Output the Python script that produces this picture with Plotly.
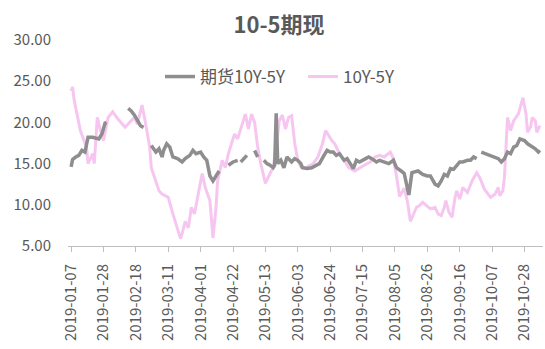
import plotly.graph_objects as go

# 10Y-5Y spot spread
spot_dates = [
    "2019-01-07", "2019-01-08", "2019-01-09", "2019-01-11", "2019-01-13", "2019-01-15",
    "2019-01-17", "2019-01-18", "2019-01-21", "2019-01-22", "2019-01-24", "2019-01-26",
    "2019-01-28", "2019-01-31", "2019-02-03", "2019-02-06", "2019-02-11", "2019-02-13",
    "2019-02-17", "2019-02-19", "2019-02-22", "2019-02-24", "2019-02-27", "2019-02-28",
    "2019-03-03", "2019-03-05", "2019-03-07", "2019-03-11", "2019-03-14", "2019-03-17",
    "2019-03-19", "2019-03-20", "2019-03-21", "2019-03-22", "2019-03-24", "2019-03-26",
    "2019-03-28", "2019-03-31", "2019-04-02", "2019-04-04", "2019-04-07", "2019-04-09",
    "2019-04-11", "2019-04-12", "2019-04-15", "2019-04-17", "2019-04-19", "2019-04-21",
    "2019-04-23", "2019-04-25", "2019-04-28", "2019-04-30", "2019-05-02", "2019-05-04",
    "2019-05-06", "2019-05-08", "2019-05-10", "2019-05-13", "2019-05-16", "2019-05-18",
    "2019-05-20", "2019-05-22", "2019-05-24", "2019-05-26", "2019-05-28", "2019-05-30",
    "2019-06-01", "2019-06-03", "2019-06-05", "2019-06-08", "2019-06-13", "2019-06-16",
    "2019-06-19", "2019-06-21", "2019-06-23", "2019-06-25", "2019-06-27", "2019-06-29",
    "2019-07-03", "2019-07-06", "2019-07-10", "2019-07-13", "2019-07-16", "2019-07-20",
    "2019-07-23", "2019-07-26", "2019-07-29", "2019-08-02", "2019-08-04", "2019-08-06",
    "2019-08-08", "2019-08-11", "2019-08-13", "2019-08-15", "2019-08-19", "2019-08-21",
    "2019-08-23", "2019-08-28", "2019-08-31", "2019-09-02", "2019-09-04", "2019-09-06",
    "2019-09-07", "2019-09-09", "2019-09-11", "2019-09-13", "2019-09-14", "2019-09-16",
    "2019-09-18", "2019-09-21", "2019-09-24", "2019-09-27", "2019-09-29", "2019-10-02",
    "2019-10-06", "2019-10-09", "2019-10-11", "2019-10-12", "2019-10-14", "2019-10-15",
    "2019-10-16", "2019-10-17", "2019-10-19", "2019-10-21", "2019-10-24", "2019-10-27",
    "2019-10-29", "2019-10-30", "2019-11-01", "2019-11-02", "2019-11-04", "2019-11-05",
    "2019-11-07",
]
spot_values = [
    23.8, 24.3, 22.7, 20.6, 19.0, 18.0,
    17.0, 15.0, 16.2, 15.0, 20.6, 19.0,
    17.8, 20.6, 21.3, 20.5, 19.4, 19.8,
    20.6, 19.8, 22.1, 20.2, 17.0, 14.5,
    12.9, 11.7, 11.3, 10.9, 8.9, 7.2,
    5.9, 6.5, 7.2, 8.0, 7.2, 9.7,
    8.9, 11.7, 13.8, 12.1, 10.5, 6.0,
    9.7, 12.9, 15.4, 14.5, 16.2, 17.4,
    18.6, 18.0, 19.8, 21.0, 19.2, 21.0,
    20.0, 17.0, 15.0, 12.6, 13.8, 14.5,
    17.0, 20.2, 20.9, 19.2, 20.6, 20.8,
    17.5, 15.4, 14.6, 14.5, 15.0, 15.8,
    17.4, 19.0, 18.4, 17.8, 17.4, 16.6,
    15.4, 14.5, 14.1, 14.5, 14.8, 15.2,
    15.8, 16.0, 15.8, 16.4, 15.6, 13.5,
    11.0, 12.0, 10.5, 8.0, 9.7, 9.9,
    10.3, 9.5, 9.7, 8.9, 8.7, 9.7,
    10.5, 9.1, 8.5, 10.9, 11.7, 10.7,
    12.1, 11.5, 12.9, 13.9, 13.3, 11.9,
    10.9, 11.3, 12.1, 11.1, 11.7, 13.3,
    17.8, 20.6, 19.0, 20.2, 21.0, 23.0,
    21.0, 18.8, 19.5, 20.6, 20.2, 18.8,
    19.6,
]

# 期货 10Y-5Y spread (None marks missing days)
fut_dates = [
    "2019-01-07", "2019-01-08", "2019-01-10", "2019-01-12", "2019-01-14", "2019-01-16",
    "2019-01-18", "2019-01-21", "2019-01-25", "2019-01-27", "2019-01-29", "2019-01-30",
    "2019-02-06", "2019-02-13", "2019-02-15", "2019-02-17", "2019-02-20", "2019-02-21",
    "2019-02-23", "2019-02-26", "2019-02-28", "2019-03-03", "2019-03-05", "2019-03-07",
    "2019-03-08", "2019-03-10", "2019-03-12", "2019-03-14", "2019-03-17", "2019-03-20",
    "2019-03-22", "2019-03-25", "2019-03-27", "2019-03-29", "2019-04-01", "2019-04-03",
    "2019-04-05", "2019-04-07", "2019-04-09", "2019-04-11", "2019-04-13", "2019-04-16",
    "2019-04-19", "2019-04-22", "2019-04-25", "2019-04-26", "2019-04-27", "2019-04-29",
    "2019-05-01", "2019-05-03", "2019-05-06", "2019-05-08", "2019-05-10", "2019-05-12",
    "2019-05-14", "2019-05-16", "2019-05-18", "2019-05-19", "2019-05-20", "2019-05-21",
    "2019-05-23", "2019-05-25", "2019-05-27", "2019-05-30", "2019-06-01", "2019-06-03",
    "2019-06-05", "2019-06-06", "2019-06-09", "2019-06-12", "2019-06-15", "2019-06-17",
    "2019-06-20", "2019-06-22", "2019-06-24", "2019-06-26", "2019-06-28", "2019-06-30",
    "2019-07-03", "2019-07-05", "2019-07-07", "2019-07-09", "2019-07-11", "2019-07-13",
    "2019-07-17", "2019-07-19", "2019-07-21", "2019-07-24", "2019-07-26", "2019-07-30",
    "2019-08-01", "2019-08-04", "2019-08-06", "2019-08-09", "2019-08-11", "2019-08-14",
    "2019-08-16", "2019-08-20", "2019-08-23", "2019-08-26", "2019-08-28", "2019-08-31",
    "2019-09-02", "2019-09-04", "2019-09-06", "2019-09-08", "2019-09-10", "2019-09-12",
    "2019-09-14", "2019-09-16", "2019-09-18", "2019-09-21", "2019-09-23", "2019-09-25",
    "2019-09-27", "2019-09-28", "2019-09-30", "2019-10-03", "2019-10-06", "2019-10-09",
    "2019-10-11", "2019-10-13", "2019-10-15", "2019-10-17", "2019-10-19", "2019-10-21",
    "2019-10-23", "2019-10-25", "2019-10-28", "2019-10-30", "2019-11-01", "2019-11-04",
    "2019-11-06", "2019-11-07",
]
fut_values = [
    14.6, 15.5, 15.8, 16.0, 16.6, 16.4,
    18.2, 18.2, 18.0, 18.6, 19.9, 20.0,
    None, 21.7, 21.4, 20.9, 20.0, 19.6,
    19.4, None, 17.2, 16.4, 16.8, 15.8,
    16.6, 17.4, 17.0, 15.8, 15.6, 15.2,
    15.6, 16.0, 16.6, 16.2, 16.4, 15.8,
    15.4, 13.5, 12.9, 13.5, 14.1, None,
    14.8, 15.2, 15.4, None, 15.2, 15.6,
    16.0, None, 16.6, 15.8, None, 15.4,
    15.0, 14.8, 14.5, 14.8, 21.1, 15.0,
    15.4, 14.5, 15.8, 15.2, 15.6, 15.4,
    15.0, 14.5, 14.4, 14.5, 14.8, 15.0,
    16.0, 16.6, 16.4, 16.4, 16.0, 16.2,
    15.4, 15.6, 15.0, 14.4, 15.4, 15.2,
    15.6, 15.8, 15.6, 15.2, 15.4, 15.2,
    15.0, 15.4, 14.5, 14.1, 13.8, 11.2,
    13.9, 14.1, 13.7, 13.5, 13.5, 12.5,
    12.3, 12.9, 13.7, 13.5, 14.4, 14.3,
    14.8, 15.2, 15.2, 15.4, 15.4, 15.8,
    15.6, None, 16.4, 16.2, 16.0, 15.8,
    15.6, 15.2, 15.6, 16.4, 16.2, 17.0,
    17.2, 18.0, 17.8, 17.4, 17.2, 16.8,
    16.4, 16.6,
]

title_text = "10-5期现"
fut_name = "期货10Y-5Y"
spot_name = "10Y-5Y"

text_color = "#595959"
cjk_font = "Noto Sans CJK SC"

fig = go.Figure()
fig.add_trace(go.Scatter(
    x=spot_dates, y=spot_values, name=spot_name, mode="lines",
    line=dict(color="#F6C6F1", width=3), legendrank=2,
))
fig.add_trace(go.Scatter(
    x=fut_dates, y=fut_values, name=fut_name, mode="lines",
    line=dict(color="#8E8E8E", width=3.5), connectgaps=False, legendrank=1,
))

fig.update_layout(
    width=545, height=349,
    margin=dict(l=68, r=2, t=40, b=103),
    paper_bgcolor="white", plot_bgcolor="white",
    font=dict(family=cjk_font, color=text_color, size=14),
    title=dict(
        text=title_text, xref="container", x=0.512, xanchor="center",
        yref="container", y=1 - 25 / 349, yanchor="middle",
        font=dict(family=cjk_font, size=22, color=text_color, weight="bold"),
    ),
    legend=dict(
        orientation="h", xref="paper", yref="paper",
        x=(160 - 68) / 475, xanchor="left", y=(246 - 77) / 206, yanchor="middle",
        font=dict(family=cjk_font, size=17, color=text_color),
        bgcolor="rgba(0,0,0,0)", entrywidth=98, entrywidthmode="pixels",
        traceorder="normal",
    ),
    showlegend=True,
)

fig.update_xaxes(
    type="date", range=["2019-01-05", "2019-11-09"],
    tick0="2019-01-07", dtick=21 * 86400000, tickformat="%Y-%m-%d",
    tickangle=-90, ticks="outside", ticklen=5, tickcolor="#BFBFBF",
    showline=True, linecolor="#BFBFBF", linewidth=1,
    showgrid=False, zeroline=False,
    tickfont=dict(family=cjk_font, size=15, color=text_color),
    ticklabelstandoff=6,
)
fig.update_yaxes(
    range=[5, 30], dtick=5, tickformat=".2f",
    showline=False, showgrid=False, zeroline=False, ticks="",
    tickfont=dict(family=cjk_font, size=15, color=text_color),
    ticklabelstandoff=16,
)

fig.write_html("out.html")
